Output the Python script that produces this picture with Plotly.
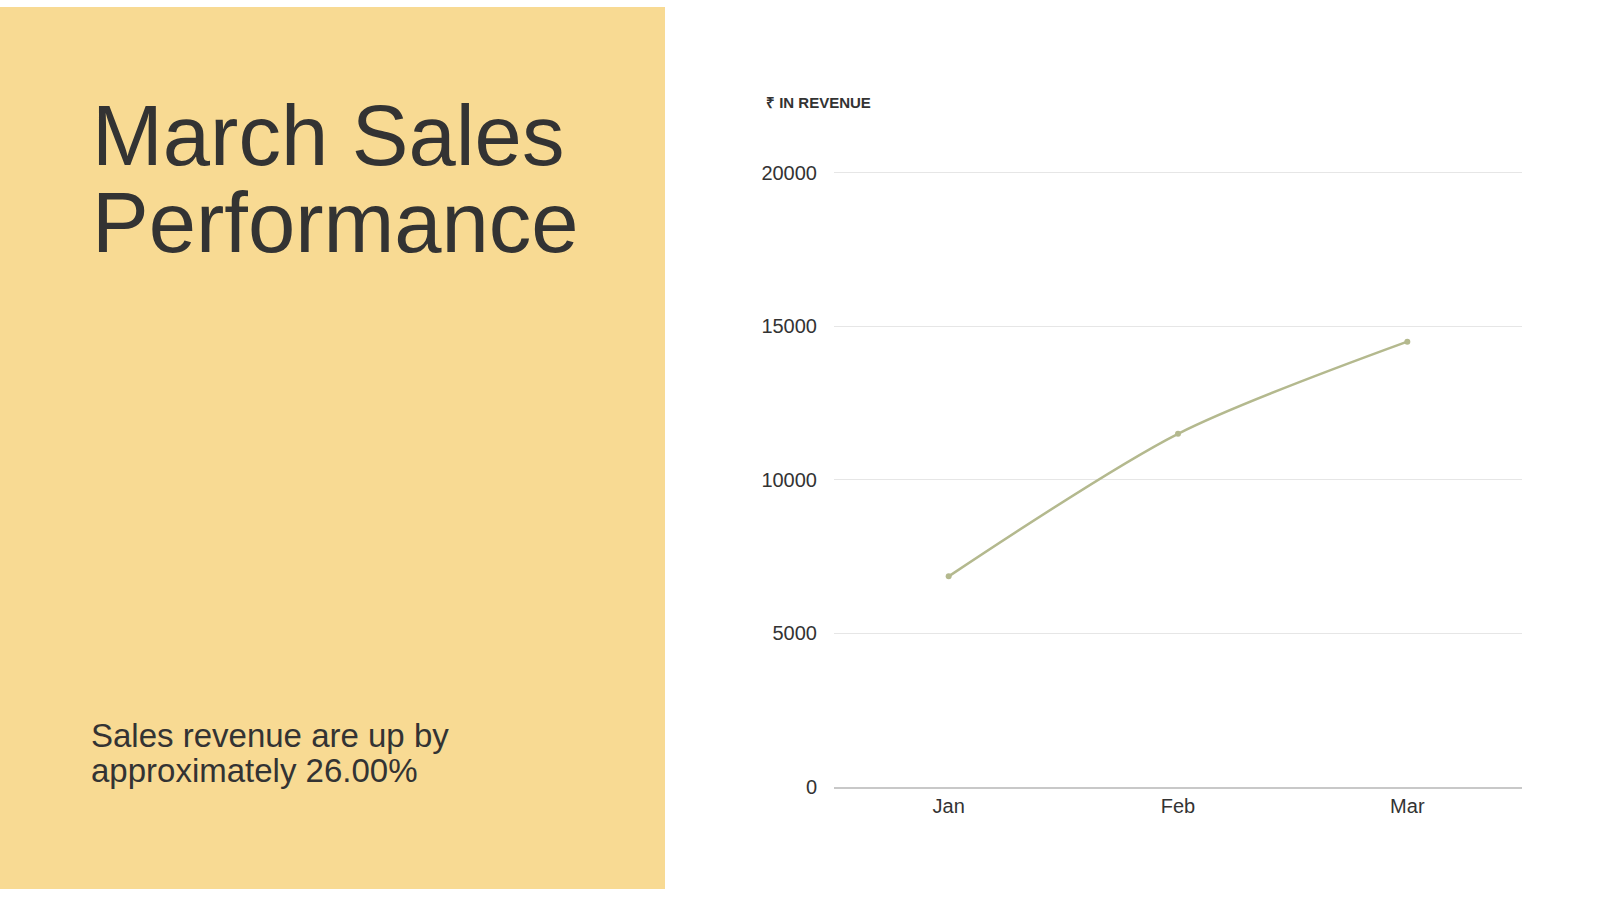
import plotly.graph_objs as go

months = ["Jan", "Feb", "Mar"]                                                  # categories on x
revenue = [6860, 11500, 14500]                                                  # revenue values
y_ticks = [0, 5000, 10000, 15000, 20000]                                        # y tick values

W, H = 1600, 900
FONT = "Liberation Sans, Helvetica, Arial, sans-serif"
INK = "#333333"

fig = go.Figure()

fig.add_trace(go.Scatter(
    x=months,
    y=revenue,
    mode="lines+markers",
    line=dict(color="#b4b98e", width=2.5, shape="spline", smoothing=0.8),
    marker=dict(size=6, color="#b4b98e"),
    hoverinfo="x+y",
    showlegend=False
))

# left yellow panel
fig.add_shape(type="rect", xref="paper", yref="paper",
              x0=0, x1=665 / W, y0=0, y1=1,
              fillcolor="#f8da93", line=dict(width=0), layer="below")

# title, two lines set separately for the tight line height
fig.add_annotation(text="March Sales", xref="paper", yref="paper",
                   x=90 / W, y=1 - 182 / H, xanchor="left", yanchor="bottom",
                   showarrow=False, font=dict(family=FONT, size=85, color=INK))
fig.add_annotation(text="Performance", xref="paper", yref="paper",
                   x=90 / W, y=1 - 270 / H, xanchor="left", yanchor="bottom",
                   showarrow=False, font=dict(family=FONT, size=85, color=INK))

# summary text
fig.add_annotation(text="Sales revenue are up by", xref="paper", yref="paper",
                   x=89 / W, y=1 - 764 / H, xanchor="left", yanchor="bottom",
                   showarrow=False, font=dict(family=FONT, size=33, color=INK))
fig.add_annotation(text="approximately 26.00%", xref="paper", yref="paper",
                   x=89 / W, y=1 - 800 / H, xanchor="left", yanchor="bottom",
                   showarrow=False, font=dict(family=FONT, size=33, color=INK))

# axis caption
fig.add_annotation(text="<b>₹ IN REVENUE</b>", xref="paper", yref="paper",
                   x=764 / W, y=1 - 97 / H, xanchor="left", yanchor="middle",
                   showarrow=False, font=dict(family=FONT, size=15, color=INK))

fig.update_layout(
    width=W, height=H,
    margin=dict(l=0, r=0, t=0, b=0),
    paper_bgcolor="white",
    plot_bgcolor="white",
    font=dict(family=FONT, color=INK),
    xaxis=dict(
        domain=[834 / W, 1522 / W],
        type="category",
        range=[-0.5, 2.5],
        showgrid=False,
        showline=True, linecolor="#c8c8c8", linewidth=1.5,
        ticks="", tickfont=dict(size=20, color=INK),
        zeroline=False, fixedrange=True
    ),
    yaxis=dict(
        domain=[1 - 796 / H, 1 - 165 / H],
        range=[0, 20130],
        tickvals=y_ticks,
        ticktext=[str(v) for v in y_ticks],
        showgrid=True, gridcolor="#e6e6e6", gridwidth=1,
        zeroline=False, showline=False,
        ticks="outside", ticklen=12, tickcolor="rgba(0,0,0,0)",
        tickfont=dict(size=20, color=INK), fixedrange=True
    )
)

# pin the plot to the page corner so nothing shifts it
pin = ("document.body.style.margin='0';"
       "document.body.style.overflow='hidden';"
       "var d=document.getElementById('{plot_id}');"
       "d.style.position='fixed';d.style.top='0';d.style.left='0';")

fig.write_html("out.html", config={"displayModeBar": False}, post_script=pin)
